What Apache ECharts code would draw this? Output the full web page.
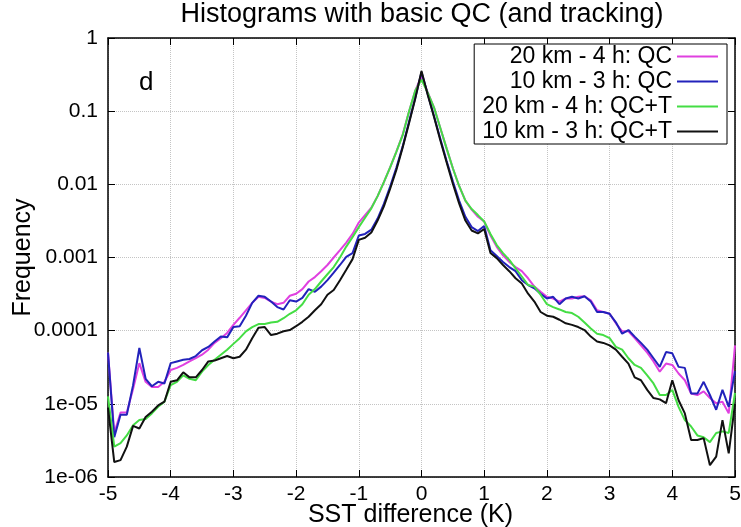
<!DOCTYPE html>
<html>
<head>
<meta charset="utf-8">
<title>Histograms with basic QC (and tracking)</title>
<script src="https://cdn.jsdelivr.net/npm/echarts@6/dist/echarts.min.js"></script>
<style>
    html, body { margin: 0; padding: 0; background: #fff; }
    #myChart { width: 741px; height: 527px; }
</style>
</head>
<body>
<div id="myChart"></div>
<script>
    // bin centres (K)
    var bins = [
        -5.0, -4.9, -4.8, -4.7, -4.6, -4.5, -4.4, -4.3, -4.2, -4.1,
        -4.0, -3.9, -3.8, -3.7, -3.6, -3.5, -3.4, -3.3, -3.2, -3.1,
        -3.0, -2.9, -2.8, -2.7, -2.6, -2.5, -2.4, -2.3, -2.2, -2.1,
        -2.0, -1.9, -1.8, -1.7, -1.6, -1.5, -1.4, -1.3, -1.2, -1.1,
        -1.0, -0.9, -0.8, -0.7, -0.6, -0.5, -0.4, -0.3, -0.2, -0.1,
        0.0,
        0.1, 0.2, 0.3, 0.4, 0.5, 0.6, 0.7, 0.8, 0.9, 1.0,
        1.1, 1.2, 1.3, 1.4, 1.5, 1.6, 1.7, 1.8, 1.9, 2.0,
        2.1, 2.2, 2.3, 2.4, 2.5, 2.6, 2.7, 2.8, 2.9, 3.0,
        3.1, 3.2, 3.3, 3.4, 3.5, 3.6, 3.7, 3.8, 3.9, 4.0,
        4.1, 4.2, 4.3, 4.4, 4.5, 4.6, 4.7, 4.8, 4.9, 5.0
    ];

    // 20 km - 4 h: QC
    var qc20 = [
        5.0e-5, 4.0e-6, 7.6e-6, 7.6e-6, 1.6e-5, 3.6e-5, 2.0e-5, 1.7e-5, 1.7e-5, 2.0e-5,
        2.9e-5, 3.1e-5, 3.4e-5, 3.8e-5, 4.2e-5, 4.7e-5, 5.5e-5, 6.8e-5, 7.9e-5, 9.3e-5,
        1.2e-4, 1.5e-4, 1.9e-4, 2.4e-4, 2.9e-4, 2.8e-4, 2.5e-4, 2.3e-4, 2.4e-4, 3.0e-4,
        3.2e-4, 3.7e-4, 4.7e-4, 5.4e-4, 6.5e-4, 7.9e-4, 1.0e-3, 1.26e-3, 1.6e-3, 2.1e-3,
        3.0e-3, 3.8e-3, 4.8e-3, 6.9e-3, 1.07e-2, 1.7e-2, 2.8e-2, 4.8e-2, 9.8e-2, 0.19,
        0.30,
        0.18, 0.112, 0.059, 0.031, 0.0166, 0.0095, 0.0060, 0.0045, 0.0036, 0.0031,
        0.0020, 0.0014, 0.00107, 8.7e-4, 7.4e-4, 6.5e-4, 5.2e-4, 4.0e-4, 3.4e-4, 2.9e-4,
        2.75e-4, 2.5e-4, 2.75e-4, 2.75e-4, 2.9e-4, 2.95e-4, 2.6e-4, 1.9e-4, 1.8e-4, 1.7e-4,
        1.26e-4, 9.8e-5, 9.8e-5, 7.9e-5, 6.3e-5, 5.0e-5, 3.8e-5, 2.75e-5, 3.55e-5, 3.4e-5,
        2.6e-5, 2.1e-5, 1.38e-5, 1.32e-5, 1.48e-5, 1.2e-5, 1.02e-5, 1.07e-5, 7.4e-6, 6.3e-5
    ];

    // 10 km - 3 h: QC
    var qc10 = [
        5.0e-5, 3.5e-6, 7.1e-6, 7.1e-6, 1.8e-5, 5.8e-5, 2.2e-5, 1.74e-5, 2.0e-5, 1.9e-5,
        3.6e-5, 3.8e-5, 4.0e-5, 4.1e-5, 4.5e-5, 5.4e-5, 6.0e-5, 7.1e-5, 8.3e-5, 8.1e-5,
        1.12e-4, 1.15e-4, 1.6e-4, 2.4e-4, 3.0e-4, 2.9e-4, 2.5e-4, 2.1e-4, 1.95e-4, 2.6e-4,
        2.5e-4, 2.8e-4, 3.7e-4, 3.4e-4, 4.0e-4, 4.9e-4, 6.2e-4, 7.9e-4, 1.02e-3, 1.15e-3,
        2.0e-3, 2.1e-3, 2.4e-3, 3.4e-3, 5.4e-3, 9.3e-3, 0.017, 0.033, 0.071, 0.151,
        0.34,
        0.17, 0.085, 0.042, 0.021, 0.011, 0.0060, 0.0036, 0.0026, 0.0023, 0.0027,
        0.00126, 0.00105, 8.7e-4, 7.4e-4, 6.5e-4, 4.9e-4, 4.2e-4, 3.8e-4, 3.2e-4, 2.75e-4,
        2.9e-4, 2.3e-4, 2.75e-4, 2.9e-4, 2.75e-4, 2.95e-4, 2.5e-4, 1.8e-4, 1.8e-4, 1.7e-4,
        1.3e-4, 9.1e-5, 1.02e-4, 8.3e-5, 6.8e-5, 5.5e-5, 4.2e-5, 3.2e-5, 5.1e-5, 4.9e-5,
        3.2e-5, 3.1e-5, 1.38e-5, 1.38e-5, 2.0e-5, 1.32e-5, 8.3e-6, 1.55e-5, 9.1e-6, 2.8e-5
    ];

    // 20 km - 4 h: QC+T
    var qct20 = [
        1.26e-5, 2.6e-6, 2.9e-6, 3.7e-6, 5.1e-6, 6.0e-6, 6.2e-6, 7.4e-6, 9.1e-6, 1.07e-5,
        1.8e-5, 2.0e-5, 2.45e-5, 2.2e-5, 2.1e-5, 2.75e-5, 3.4e-5, 4.0e-5, 4.7e-5, 5.5e-5,
        6.6e-5, 7.9e-5, 9.8e-5, 1.12e-4, 1.23e-4, 1.23e-4, 1.29e-4, 1.32e-4, 1.48e-4, 1.7e-4,
        1.9e-4, 2.3e-4, 3.1e-4, 3.7e-4, 4.7e-4, 5.9e-4, 7.4e-4, 1.0e-3, 1.41e-3, 1.9e-3,
        2.6e-3, 3.5e-3, 4.7e-3, 6.9e-3, 0.0107, 0.017, 0.028, 0.047, 0.098, 0.19,
        0.27,
        0.178, 0.112, 0.059, 0.031, 0.0166, 0.0095, 0.0060, 0.0046, 0.0038, 0.0031,
        0.0021, 0.00148, 0.00115, 9.3e-4, 7.1e-4, 5.5e-4, 4.2e-4, 4.0e-4, 3.1e-4, 2.3e-4,
        2.1e-4, 1.95e-4, 1.8e-4, 1.74e-4, 1.55e-4, 1.29e-4, 1.07e-4, 9.1e-5, 8.7e-5, 7.9e-5,
        6.0e-5, 5.5e-5, 4.2e-5, 3.4e-5, 3.1e-5, 2.45e-5, 1.9e-5, 1.32e-5, 1.32e-5, 1.55e-5,
        9.1e-6, 6.0e-6, 4.9e-6, 3.7e-6, 3.5e-6, 3.0e-6, 4.0e-6, 4.2e-6, 4.0e-6, 1.41e-5
    ];

    // 10 km - 3 h: QC+T
    var qct10 = [
        8.9e-6, 1.6e-6, 1.7e-6, 2.6e-6, 5.0e-6, 4.6e-6, 6.6e-6, 7.8e-6, 9.5e-6, 1.07e-5,
        2.0e-5, 2.1e-5, 2.7e-5, 2.3e-5, 2.3e-5, 2.9e-5, 3.8e-5, 3.9e-5, 4.2e-5, 4.5e-5,
        4.2e-5, 4.4e-5, 5.5e-5, 7.9e-5, 1.1e-4, 1.12e-4, 8.7e-5, 9.1e-5, 9.8e-5, 1.02e-4,
        1.15e-4, 1.32e-4, 1.55e-4, 1.9e-4, 2.3e-4, 3.1e-4, 3.6e-4, 4.9e-4, 6.8e-4, 9.5e-4,
        1.74e-3, 1.86e-3, 2.2e-3, 3.2e-3, 5.0e-3, 8.7e-3, 0.0158, 0.032, 0.068, 0.148,
        0.355,
        0.166, 0.083, 0.040, 0.020, 0.0102, 0.0055, 0.0032, 0.00234, 0.00214, 0.00245,
        0.00115, 9.8e-4, 7.9e-4, 6.5e-4, 5.2e-4, 4.4e-4, 3.2e-4, 2.5e-4, 1.8e-4, 1.6e-4,
        1.55e-4, 1.41e-4, 1.26e-4, 1.2e-4, 1.12e-4, 1.02e-4, 8.3e-5, 7.1e-5, 6.8e-5, 6.3e-5,
        5.5e-5, 4.4e-5, 3.55e-5, 2.3e-5, 2.1e-5, 1.55e-5, 1.2e-5, 1.15e-5, 1.02e-5, 2.1e-5,
        1.12e-5, 7.4e-6, 3.2e-6, 3.2e-6, 3.4e-6, 1.45e-6, 1.9e-6, 6.0e-6, 2.1e-6, 1.0e-5
    ];

    var seriesNames = ['20 km - 4 h: QC', '10 km - 3 h: QC', '20 km - 4 h: QC+T', '10 km - 3 h: QC+T'];
    var seriesColors = ['#e040e0', '#2222bb', '#44dd44', '#111111'];
    var xTickLabels = ['-5', '-4', '-3', '-2', '-1', '0', '1', '2', '3', '4', '5'];
    var yTickLabels = ['1e-06', '1e-05', '0.0001', '0.001', '0.01', '0.1', '1'];

    var font = 'Liberation Sans';

    function pairs(values) {
        var out = [];
        for (var i = 0; i < bins.length; i++) {
            out.push([bins[i], values[i]]);
        }
        return out;
    }

    var chart = echarts.init(document.getElementById('myChart'));

    var boxLine = { show: true, onZero: false, lineStyle: { color: '#000', width: 1.5 } };
    var grid = { show: true, lineStyle: { color: '#c4c4c4', type: 'dotted', width: 1 } };
    var inTick = { inside: true, length: 7, lineStyle: { color: '#000' } };

    var series = [qc20, qc10, qct20, qct10].map(function (vals, i) {
        return {
            name: seriesNames[i],
            type: 'line',
            symbol: 'none',
            smooth: false,
            data: pairs(vals),
            lineStyle: { color: seriesColors[i], width: 2 },
            itemStyle: { color: seriesColors[i] },
            z: 2 + i
        };
    });

    chart.setOption({
        animation: false,
        textStyle: { fontFamily: font },
        title: {
            text: 'Histograms with basic QC (and tracking)',
            left: 422,
            top: 1,
            textAlign: 'center',
            padding: 0,
            textStyle: { fontFamily: font, fontSize: 27, fontWeight: 'normal', color: '#000' }
        },
        legend: {
            orient: 'vertical',
            right: 14,
            top: 44,
            align: 'right',
            icon: 'rect',
            itemWidth: 41,
            itemHeight: 2,
            itemGap: 2,
            padding: [1, 9, 1, 8],
            borderColor: '#000',
            borderWidth: 1,
            backgroundColor: '#fff',
            textStyle: { fontFamily: font, fontSize: 23, color: '#000' },
            data: seriesNames
        },
        // keep the plot box fixed, labels may sit near the edge
        grid: { left: 108, right: 6, top: 38, bottom: 50, outerBoundsMode: 'none', containLabel: false },
        xAxis: [{
            type: 'value',
            min: -5,
            max: 5,
            interval: 1,
            position: 'bottom',
            axisLine: boxLine,
            axisTick: inTick,
            axisLabel: {
                fontFamily: font, fontSize: 21, color: '#000', margin: 7,
                formatter: function (v) { return xTickLabels[Math.round(v) + 5]; }
            },
            splitLine: grid,
            name: 'SST difference (K)',
            nameLocation: 'middle',
            nameGap: 26,
            nameMoveOverlap: false,
            nameTextStyle: { fontFamily: font, fontSize: 25, color: '#000', padding: [0, 22, 0, 0] }
        }, {
            type: 'value',
            min: -5,
            max: 5,
            interval: 1,
            position: 'top',
            axisLine: boxLine,
            axisTick: inTick,
            axisLabel: { show: false },
            splitLine: { show: false }
        }],
        yAxis: [{
            type: 'log',
            logBase: 10,
            min: 1e-6,
            max: 1,
            interval: 1,
            position: 'left',
            axisLine: boxLine,
            axisTick: inTick,
            axisLabel: {
                fontFamily: font, fontSize: 21, color: '#000', margin: 10,
                formatter: function (v) { return yTickLabels[Math.round(Math.log10(v)) + 6]; }
            },
            splitLine: grid,
            name: 'Frequency',
            nameLocation: 'middle',
            nameGap: 72,
            nameMoveOverlap: false,
            nameTextStyle: { fontFamily: font, fontSize: 25, color: '#000' }
        }, {
            type: 'log',
            logBase: 10,
            min: 1e-6,
            max: 1,
            interval: 1,
            position: 'right',
            axisLine: boxLine,
            axisTick: inTick,
            axisLabel: { show: false },
            splitLine: { show: false }
        }],
        graphic: [{
            type: 'text',
            left: 139,
            top: 70,
            style: { text: 'd', fontFamily: font, fontSize: 26, fill: '#000' }
        }],
        series: series
    });
</script>
</body>
</html>
